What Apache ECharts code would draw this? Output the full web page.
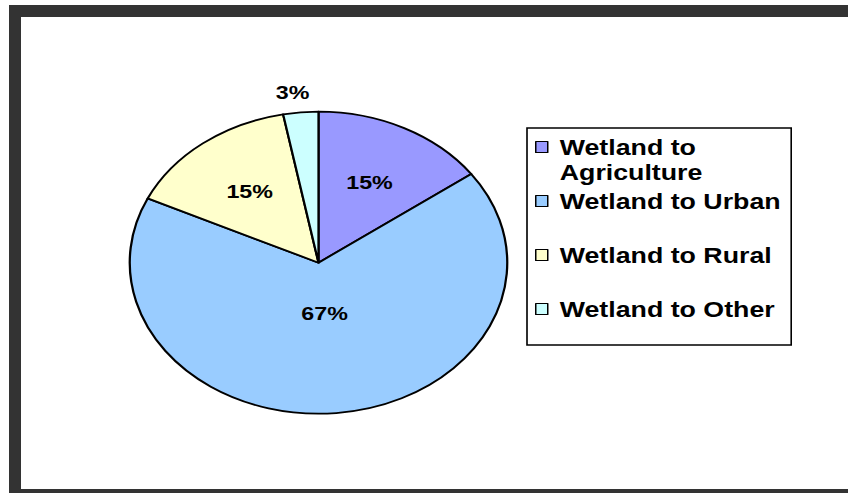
<!DOCTYPE html>
<html>
<head>
<meta charset="utf-8">
<script src="https://cdn.jsdelivr.net/npm/echarts@6/dist/echarts.min.js"></script>
<style>
  html, body { margin: 0; padding: 0; width: 848px; height: 493px; overflow: hidden; background: #fff; }
  #frame { position: absolute; left: 9px; top: 5px; width: 860px; height: 488px; background: #333; }
  /* chart is laid out narrow, then widened so the pie becomes an ellipse */
  #chart { position: absolute; left: 21px; top: 17px; width: 662px; height: 472px; background: #fff;
           transform: scaleX(1.25); transform-origin: 0 0; }
</style>
</head>
<body>
<div id="frame"></div>
<div id="chart"></div>
<script>
// Wetland conversion shares (percent)
const categories = ['Wetland to Agriculture', 'Wetland to Urban', 'Wetland to Rural', 'Wetland to Other'];
// the first entry keeps an empty leading line so its first text line sits level with the swatch
const legendLabels = ['\nWetland to\nAgriculture', 'Wetland to Urban', 'Wetland to Rural', 'Wetland to Other'];
const shares = [15, 67, 15, 3];
const sliceColors = ['#9999FF', '#99CCFF', '#FFFFCC', '#CCFFFF'];

const FONT = '"Liberation Sans", Arial, sans-serif';
const CX = 238, CY = 245.7, R = 151;
const total = shares.reduce((a, b) => a + b, 0);

// angle (radians, clockwise from 12 o'clock) at the middle of slice i
function midAngle(i) {
  let before = 0;
  for (let k = 0; k < i; k++) before += shares[k];
  return (before + shares[i] / 2) / total * 2 * Math.PI;
}

const chart = echarts.init(document.getElementById('chart'), null, { renderer: 'svg' });

chart.setOption({
  animation: false,
  backgroundColor: '#fff',
  legend: {
    orient: 'vertical',
    left: 404.8,
    top: 111,
    selectedMode: false,
    icon: 'rect',
    itemWidth: 9.6,
    itemHeight: 11,
    itemGap: -21,
    padding: [-18.5, 0, -1.5, 6.4],
    borderColor: '#000',
    borderWidth: 1.3,
    itemStyle: { borderColor: '#000', borderWidth: 1.2 },
    data: categories.map((name, i) => ({
      name: name,
      // every entry box is three lines tall
      textStyle: { padding: i === 0 ? [0, 8.5, 0, 4.6] : [25, 8.5, 25, 4.6] }
    })),
    formatter: name => legendLabels[categories.indexOf(name)],
    textStyle: {
      fontFamily: FONT, fontWeight: 'bold', fontSize: 21.4, lineHeight: 25,
      color: '#000', backgroundColor: 'transparent'
    }
  },
  series: [{
    type: 'pie',
    center: [CX, CY],
    radius: R,
    startAngle: 90,
    clockwise: true,
    silent: true,
    emphasis: { disabled: true },
    itemStyle: { borderColor: '#000', borderWidth: 1.8 },
    data: categories.map((name, i) => ({
      name: name,
      value: shares[i],
      itemStyle: { color: sliceColors[i] }
    })),
    label: {
      show: true,
      position: 'inside',
      formatter: '{d}%',
      fontFamily: FONT,
      fontWeight: 'bold',
      fontSize: 18.6,
      color: '#000'
    },
    labelLine: { show: false },
    labelLayout: function (p) {
      const i = p.dataIndex;
      const a = midAngle(i);
      const s = Math.sin(a), c = Math.cos(a);
      const frac = shares[i] / total;
      if (frac < 0.05) {
        // tiny slices: label sits just outside the rim
        const rr = R + 11;
        const x = CX + rr * s, y = CY - rr * c;
        return {
          x: x + (s < 0 ? 8 : -8), y: y,
          align: s < 0 ? 'right' : 'left',
          verticalAlign: c > 0 ? 'bottom' : 'top'
        };
      }
      // the dominant slice keeps its label nearer the centre
      const f = frac > 0.5 ? 0.34 : 0.595;
      return { x: CX + R * f * s, y: CY - R * f * c, align: 'center', verticalAlign: 'middle' };
    }
  }]
});
</script>
</body>
</html>
